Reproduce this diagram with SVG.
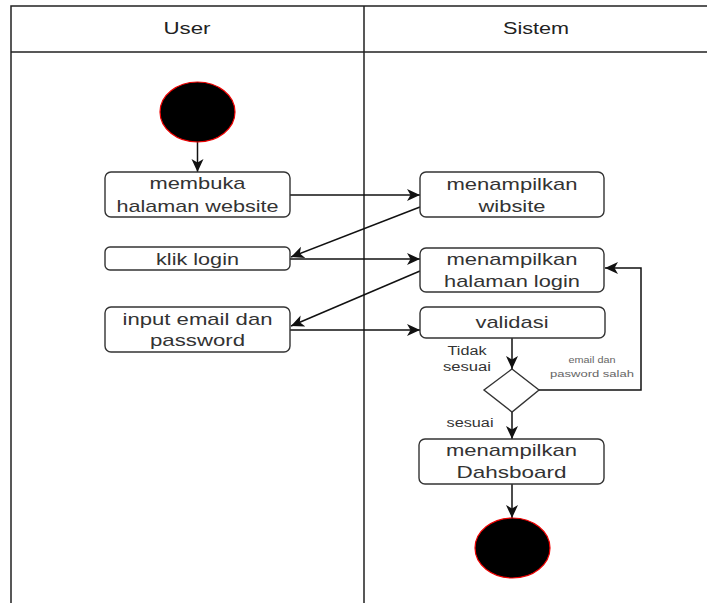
<svg xmlns="http://www.w3.org/2000/svg" width="707" height="603" viewBox="0 0 707 603">
<style>
.box{fill:#fff;stroke:#333;stroke-width:1.4}
.lbl{font-family:"Liberation Sans",Arial,sans-serif;font-size:17px;fill:#333;text-anchor:middle}
.sm{font-family:"Liberation Sans",Arial,sans-serif;font-size:12px;fill:#333;text-anchor:middle}
.xs{font-family:"Liberation Sans",Arial,sans-serif;font-size:9px;fill:#666;text-anchor:middle}
.hd{font-family:"Liberation Sans",Arial,sans-serif;font-size:16px;fill:#222;text-anchor:middle}
.ln{fill:none;stroke:#111;stroke-width:1.5}
.dot{fill:#000;stroke:#e00;stroke-width:1.2}
</style>
<defs>
<marker id="arr" markerUnits="userSpaceOnUse" markerWidth="13" markerHeight="14" viewBox="0 0 13 14" refX="13" refY="7" orient="auto">
<path d="M0,1 L13,7 L0,13 L3.5,7 z" fill="#111"/>
</marker>
</defs>
<rect width="707" height="603" fill="#fff"/>
<g id="lanes" fill="none" stroke="#222" stroke-width="1.5">
<path d="M11,603 V6 H707 M11,52 H707 M364,6 V603"/>
</g>
<g id="headers">
<text class="hd" x="187" y="34" textLength="47" lengthAdjust="spacingAndGlyphs">User</text>
<text class="hd" x="536" y="34" textLength="66" lengthAdjust="spacingAndGlyphs">Sistem</text>
</g>
<g id="connectors" class="ln">
<path class="ln" d="M197.5,142 V172" marker-end="url(#arr)"/>
<path class="ln" d="M290,195 H420" marker-end="url(#arr)"/>
<path class="ln" d="M420,207 L291,257" marker-end="url(#arr)"/>
<path class="ln" d="M290,259 H420" marker-end="url(#arr)"/>
<path class="ln" d="M420,271 L291,326" marker-end="url(#arr)"/>
<path class="ln" d="M290,330 H420" marker-end="url(#arr)"/>
<path class="ln" d="M512,338 V369" marker-end="url(#arr)"/>
<path class="ln" d="M539,390 H641 V268 H605" marker-end="url(#arr)"/>
<path class="ln" d="M512,412 V439" marker-end="url(#arr)"/>
<path class="ln" d="M512,484 V518" marker-end="url(#arr)"/>
</g>
<g id="start"><ellipse class="dot" cx="197.5" cy="112" rx="37.5" ry="30"/></g>
<g id="membuka">
<rect class="box" x="105" y="172" width="185" height="45" rx="6"/>
<text class="lbl" x="197.5" y="189" textLength="96" lengthAdjust="spacingAndGlyphs">membuka</text>
<text class="lbl" x="197.5" y="212" textLength="162" lengthAdjust="spacingAndGlyphs">halaman website</text>
</g>
<g id="tampil-website">
<rect class="box" x="420" y="172" width="184" height="45" rx="6"/>
<text class="lbl" x="512" y="190" textLength="131" lengthAdjust="spacingAndGlyphs">menampilkan</text>
<text class="lbl" x="512" y="212" textLength="67" lengthAdjust="spacingAndGlyphs">wibsite</text>
</g>
<g id="klik-login">
<rect class="box" x="105" y="247" width="185" height="23" rx="5"/>
<text class="lbl" x="197.5" y="265" textLength="83" lengthAdjust="spacingAndGlyphs">klik login</text>
</g>
<g id="tampil-login">
<rect class="box" x="420" y="248" width="184" height="44" rx="6"/>
<text class="lbl" x="512" y="265" textLength="131" lengthAdjust="spacingAndGlyphs">menampilkan</text>
<text class="lbl" x="512" y="287" textLength="136" lengthAdjust="spacingAndGlyphs">halaman login</text>
</g>
<g id="input">
<rect class="box" x="105" y="307" width="185" height="45" rx="6"/>
<text class="lbl" x="197.5" y="325" textLength="150" lengthAdjust="spacingAndGlyphs">input email dan</text>
<text class="lbl" x="197.5" y="346" textLength="95" lengthAdjust="spacingAndGlyphs">password</text>
</g>
<g id="validasi">
<rect class="box" x="420" y="307" width="185" height="31" rx="6"/>
<text class="lbl" x="512" y="328" textLength="73" lengthAdjust="spacingAndGlyphs">validasi</text>
</g>
<g id="decision">
<polygon class="box" points="512,369 539,390 512,412 484,390"/>
<text class="sm" x="467" y="355" textLength="39" lengthAdjust="spacingAndGlyphs">Tidak</text>
<text class="sm" x="467" y="371" textLength="48" lengthAdjust="spacingAndGlyphs">sesuai</text>
<text class="sm" x="470" y="427" textLength="47" lengthAdjust="spacingAndGlyphs">sesuai</text>
<text class="xs" x="592" y="363" textLength="47" lengthAdjust="spacingAndGlyphs">email dan</text>
<text class="xs" x="592" y="377" textLength="84" lengthAdjust="spacingAndGlyphs">pasword salah</text>
</g>
<g id="dashboard">
<rect class="box" x="419" y="439" width="185" height="45" rx="6"/>
<text class="lbl" x="511.5" y="456" textLength="131" lengthAdjust="spacingAndGlyphs">menampilkan</text>
<text class="lbl" x="511.5" y="478" textLength="110" lengthAdjust="spacingAndGlyphs">Dahsboard</text>
</g>
<g id="end"><ellipse class="dot" cx="512.5" cy="548" rx="37.5" ry="30"/></g>
</svg>
